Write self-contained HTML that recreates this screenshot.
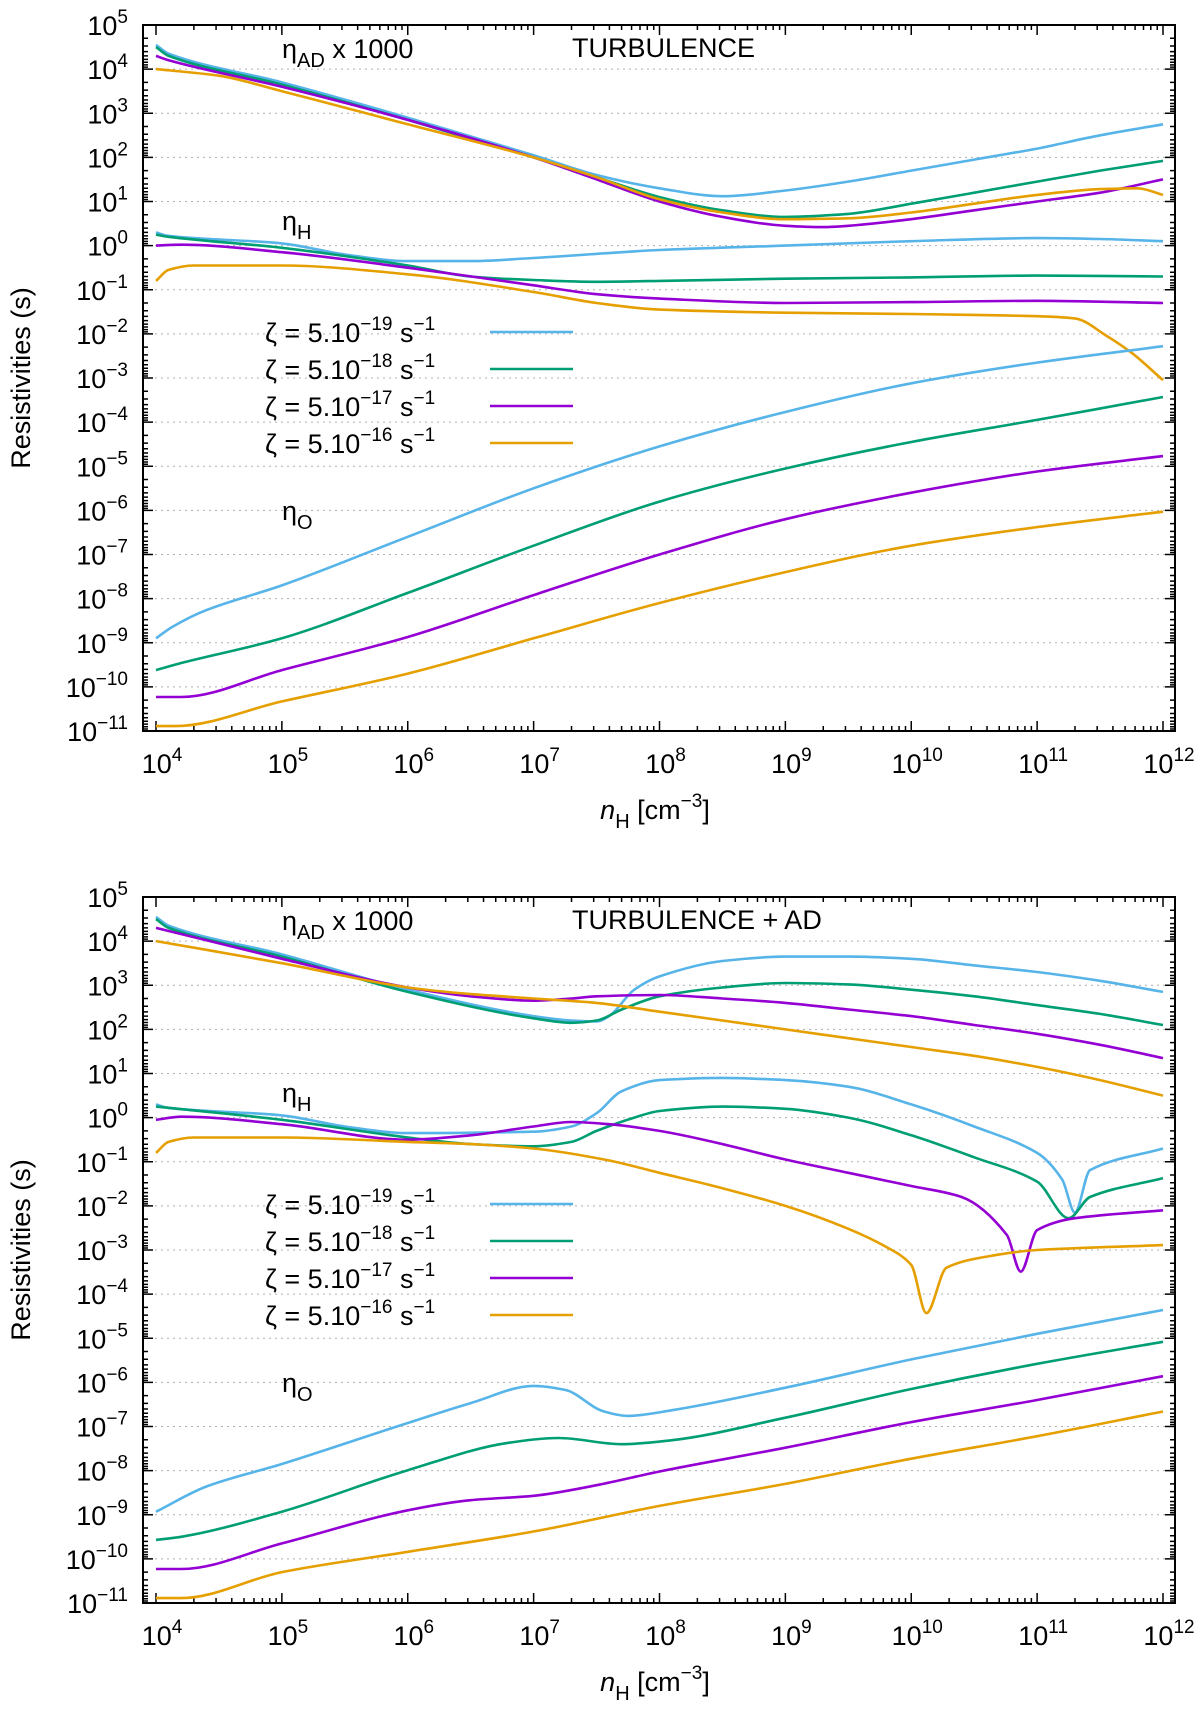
<!DOCTYPE html>
<html><head><meta charset="utf-8">
<style>
html,body{margin:0;padding:0;background:#fff;}
svg{display:block;font-family:"Liberation Sans",sans-serif;}
</style></head>
<body>
<svg id="fig" width="1200" height="1710" viewBox="0 0 1200 1710" xmlns="http://www.w3.org/2000/svg">
</svg>
<script>
// ---- data: log10(n_H) sample points and log10(resistivity) values ----
const seriesColors = ["#56b4e9","#009e73","#9400d3","#e69f00"];
const seriesNames = ["zeta-5e-19","zeta-5e-18","zeta-5e-17","zeta-5e-16"];
const legendExps = ["19","18","17","16"];
const xTickExps = [4,5,6,7,8,9,10,11,12];
const yTickExps = [5,4,3,2,1,0,-1,-2,-3,-4,-5,-6,-7,-8,-9,-10,-11];

// Top panel: TURBULENCE
const topAD_x = [[4,4.1,5,6,7,7.5,8,8.5,9,9.5,10,10.5,11,11.5,12],[4,4.1,5,6,7,7.5,8,8.5,9,9.5,10,10.5,11,11.5,12],[4,4.1,5,6,7,7.5,8,8.5,9,9.3,9.5,10,10.5,11,11.5,12],[4,4.5,5,6,7,7.5,8,8.5,9,9.5,10,10.5,11,11.5,11.8,12]];
const topAD_y = [[4.55,4.35,3.7,2.9,2.05,1.6,1.3,1.12,1.25,1.45,1.7,1.95,2.2,2.5,2.75],[4.5,4.3,3.65,2.85,2.0,1.55,1.1,0.8,0.65,0.72,0.95,1.2,1.45,1.7,1.92],[4.3,4.2,3.6,2.85,2.0,1.5,1.0,0.65,0.45,0.42,0.45,0.6,0.8,1.0,1.2,1.5],[4.0,3.85,3.5,2.75,2.0,1.55,1.05,0.75,0.6,0.62,0.75,0.95,1.15,1.28,1.3,1.15]];
const topH_x = [[4,4.1,5,5.5,6,6.5,7,8,9,10,11,11.5,12],[4,4.1,5,6,6.5,7,7.5,8,9,10,11,12],[4,4.2,5,6,7,7.5,8,9,10,11,12],[4,4.1,4.3,5,6,7,7.5,8,9,10,10.5,11,11.3,11.56,11.76,12]];
const topH_y = [[0.3,0.22,0.05,-0.2,-0.35,-0.35,-0.28,-0.1,0.0,0.1,0.17,0.15,0.1],[0.25,0.2,-0.05,-0.45,-0.7,-0.78,-0.82,-0.8,-0.75,-0.72,-0.68,-0.7],[0.0,0.02,-0.15,-0.5,-0.9,-1.1,-1.2,-1.3,-1.28,-1.25,-1.3],[-0.8,-0.55,-0.45,-0.45,-0.65,-1.05,-1.3,-1.45,-1.52,-1.55,-1.57,-1.6,-1.65,-2.06,-2.45,-3.05]];
const topO_x = [[4,4.13,4.4,5,6,7,8,9,10,11,12],[4,4.2,5,6,7,8,9,10,11,12],[4,4.2,5,6,7,8,9,10,11,12],[4,4.15,5,6,7,8,9,10,11,12]];
const topO_y = [[-8.9,-8.64,-8.26,-7.7,-6.6,-5.5,-4.55,-3.77,-3.12,-2.65,-2.28],[-9.62,-9.46,-8.9,-7.87,-6.8,-5.8,-5.05,-4.45,-3.95,-3.43],[-10.23,-10.23,-9.62,-8.87,-7.92,-7.0,-6.2,-5.6,-5.12,-4.77],[-10.89,-10.89,-10.33,-9.7,-8.9,-8.1,-7.4,-6.8,-6.38,-6.03]];

// Bottom panel: TURBULENCE + AD
const botAD_x = [[4,4.1,5,6,7,7.3,7.5,7.6,7.8,8,8.5,9,9.5,10,10.5,11,11.5,12],[4,4.1,5,6,7,7.3,7.5,7.7,8,8.5,9,9.5,10,10.5,11,11.5,12],[4,5,6,6.5,7,7.3,7.5,8,8.5,9,9.5,10,10.5,11,11.5,12],[4,5,6,6.5,7,7.5,8,8.5,9,9.5,10,10.5,11,11.5,12]];
const botAD_y = [[4.55,4.35,3.7,2.9,2.3,2.2,2.18,2.3,2.9,3.2,3.55,3.65,3.65,3.6,3.45,3.3,3.1,2.85],[4.5,4.3,3.65,2.85,2.25,2.15,2.2,2.45,2.75,2.95,3.05,3.02,2.9,2.75,2.55,2.35,2.1],[4.3,3.6,2.95,2.75,2.65,2.7,2.75,2.78,2.7,2.6,2.45,2.3,2.1,1.9,1.65,1.35],[4.0,3.5,2.95,2.8,2.7,2.6,2.4,2.2,2.0,1.8,1.6,1.4,1.15,0.85,0.5]];
const botH_x = [[4,4.1,5,5.5,6,7,7.3,7.5,7.7,8,8.5,9,9.5,10,10.5,11,11.2,11.3,11.42,12],[4,5,6,6.5,7,7.3,7.5,7.8,8,8.5,9,9.5,10,10.5,11,11.25,11.42,12],[4,4.2,5,6,6.5,7,7.3,7.6,8,8.5,9,9.5,10,10.4,10.76,10.87,11.0,11.3,12],[4,4.1,4.3,5,6,6.5,7,7.58,8,8.5,9,9.5,9.8,10.0,10.12,10.28,10.6,11,12]];
const botH_y = [[0.3,0.22,0.05,-0.2,-0.35,-0.32,-0.2,0.1,0.6,0.85,0.9,0.85,0.7,0.3,-0.2,-0.8,-1.41,-2.15,-1.19,-0.7],[0.25,-0.05,-0.45,-0.6,-0.65,-0.55,-0.3,0.0,0.15,0.25,0.2,0.0,-0.4,-0.9,-1.45,-2.28,-1.8,-1.37],[-0.05,0.02,-0.15,-0.5,-0.4,-0.2,-0.1,-0.15,-0.3,-0.6,-0.95,-1.25,-1.55,-1.8,-2.66,-3.49,-2.55,-2.28,-2.1],[-0.8,-0.55,-0.45,-0.45,-0.55,-0.6,-0.7,-0.96,-1.25,-1.6,-2.0,-2.52,-2.93,-3.34,-4.43,-3.4,-3.15,-3.0,-2.89]];
const botO_x = [[4,4.4,5,6,6.5,7,7.25,7.55,7.75,8.1,9,10,11,12],[4,4.2,5,6,6.8,7.2,7.7,8.1,9,10,11,12],[4,4.2,5,6,6.5,7,7.5,8,9,10,11,12],[4,4.2,5,6,7,8,9,10,11,12]];
const botO_y = [[-8.93,-8.36,-7.85,-6.92,-6.47,-6.08,-6.17,-6.65,-6.76,-6.63,-6.12,-5.48,-4.9,-4.36],[-9.57,-9.5,-8.93,-7.99,-7.37,-7.26,-7.4,-7.31,-6.8,-6.15,-5.58,-5.08],[-10.23,-10.23,-9.65,-8.9,-8.67,-8.57,-8.33,-8.02,-7.48,-6.9,-6.4,-5.86],[-10.89,-10.89,-10.3,-9.84,-9.38,-8.8,-8.3,-7.73,-7.22,-6.66]];

const NS="http://www.w3.org/2000/svg";
const svg=document.getElementById('fig');
function mk(tag,attrs,parent){const e=document.createElementNS(NS,tag);for(const k in attrs)e.setAttribute(k,attrs[k]);(parent||svg).appendChild(e);return e;}

const L=143,R=1175,X0=156,XD=125.875;
function monoPath(xs,ys,sx,sy){
  const px=xs.map(sx),py=ys.map(sy),n=px.length;
  const d=[],m=[];
  for(let i=0;i<n-1;i++)d.push((py[i+1]-py[i])/(px[i+1]-px[i]));
  m[0]=d[0];m[n-1]=d[n-2];
  for(let i=1;i<n-1;i++){if(d[i-1]*d[i]<=0)m[i]=0;else{m[i]=2/(1/d[i-1]+1/d[i]);}}
  let s="M"+px[0].toFixed(1)+","+py[0].toFixed(1);
  for(let i=0;i<n-1;i++){const h=(px[i+1]-px[i])/3;
    s+=" C"+(px[i]+h).toFixed(1)+","+(py[i]+m[i]*h).toFixed(1)+" "+(px[i+1]-h).toFixed(1)+","+(py[i+1]-m[i+1]*h).toFixed(1)+" "+px[i+1].toFixed(1)+","+py[i+1].toFixed(1);}
  return s;
}

function panel(T,B,title,groups,pname){
  const g=mk('g',{});
  
  
  const YD=(B-T)/16;
  const sx=v=>X0+(v-4)*XD, sy=v=>T+(5-v)*YD;
  yTickExps.forEach(e=>{if(e<5&&e>-11){const gl=mk('line',{x1:L,x2:R,y1:sy(e),y2:sy(e),stroke:'#b0b0b0','stroke-width':1,'stroke-dasharray':'2,4'},g);
    }});
  let tk="";
  yTickExps.forEach(e=>{const y=sy(e);tk+=`M${L},${y}h10M${R},${y}h-10`;
    if(e>-11)for(let k=2;k<10;k++){const yy=y+Math.log10(k)*YD;tk+=`M${L},${yy}h5M${R},${yy}h-5`;}});
  xTickExps.forEach(e=>{const x=sx(e);tk+=`M${x},${B}v-10M${x},${T}v10`;
    if(e<12)for(let k=2;k<10;k++){const xx=x+Math.log10(k)*XD;tk+=`M${xx},${B}v-5M${xx},${T}v5`;}});
  const tp=mk('path',{d:tk,stroke:'#000','stroke-width':1.5,fill:'none'},g);
  
  yTickExps.forEach(e=>{const t=mk('text',{x:128,y:sy(e)+10,'text-anchor':'end','font-size':27},g);
    
    t.innerHTML=`10<tspan dy="-12" font-size="19">${e<0?'\u2212'+(-e):e}</tspan>`;});
  xTickExps.forEach(e=>{const t=mk('text',{x:sx(e)+6,y:B+42,'text-anchor':'middle','font-size':27},g);
    
    t.innerHTML=`10<tspan dy="-12" font-size="19">${e}</tspan>`;});
  groups.forEach(([xs,ys,gname])=>{
    for(let i=0;i<4;i++){const p=mk('path',{d:monoPath(xs[i],ys[i],sx,sy),stroke:seriesColors[i],'stroke-width':2.6,fill:'none','stroke-linejoin':'round'},g);
      }
  });
  const fr=mk('rect',{x:L,y:T,width:R-L,height:B-T,fill:'none',stroke:'#000','stroke-width':2},g);
  
  let a=mk('text',{x:282,y:T+33,'font-size':27},g);
  
  a.innerHTML='η<tspan dy="9" font-size="20">AD</tspan><tspan dy="-9"> x 1000</tspan>';
  a=mk('text',{x:572,y:T+32,'font-size':27},g);
  
  a.textContent=title;
  a=mk('text',{x:282,y:T+205,'font-size':27},g);
  
  a.innerHTML='η<tspan dy="9" font-size="20">H</tspan>';
  a=mk('text',{x:282,y:T+495,'font-size':27},g);
  
  a.innerHTML='η<tspan dy="9" font-size="20">O</tspan>';
  for(let i=0;i<4;i++){const ly=T+307+i*37;
    const lt=mk('text',{x:265,y:ly+10,'font-size':27},g);
    
    lt.innerHTML=`ζ = 5.10<tspan dy="-12" font-size="19">\u2212${legendExps[i]}</tspan><tspan dy="12"> s</tspan><tspan dy="-12" font-size="19">\u22121</tspan>`;
    const ll=mk('line',{x1:490,x2:573,y1:ly,y2:ly,stroke:seriesColors[i],'stroke-width':2.6},g);
    }
  a=mk('text',{x:0,y:0,'font-size':27,'text-anchor':'middle',transform:`translate(30,${(T+B)/2}) rotate(-90)`},g);
  
  a.textContent='Resistivities (s)';
  a=mk('text',{x:655,y:B+88,'font-size':27,'text-anchor':'middle'},g);
  
  a.innerHTML='<tspan font-style="italic">n</tspan><tspan dy="9" font-size="20">H</tspan><tspan dy="-9"> [cm</tspan><tspan dy="-12" font-size="19">\u22123</tspan><tspan dy="12">]</tspan>';
}
panel(25,731,'TURBULENCE',[[topAD_x,topAD_y,'eta-ad'],[topH_x,topH_y,'eta-h'],[topO_x,topO_y,'eta-o']],'top-panel');
panel(897,1603,'TURBULENCE + AD',[[botAD_x,botAD_y,'eta-ad'],[botH_x,botH_y,'eta-h'],[botO_x,botO_y,'eta-o']],'bottom-panel');
</script>
</body></html>
